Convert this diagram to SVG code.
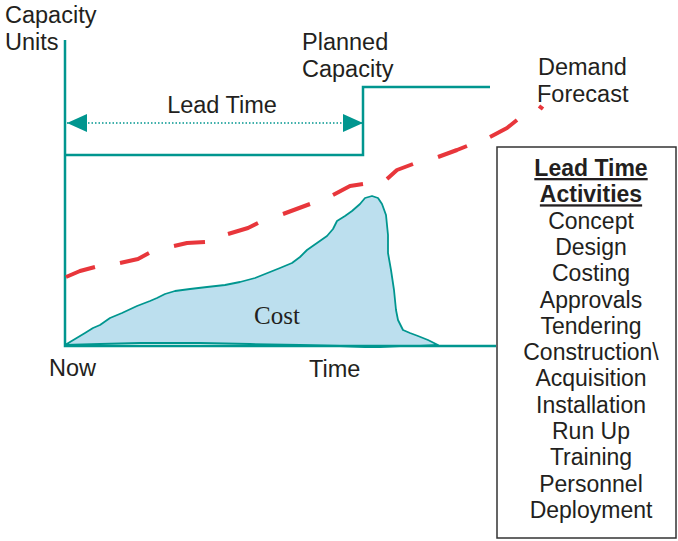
<svg xmlns="http://www.w3.org/2000/svg" width="678" height="541" viewBox="0 0 678 541">
<style>
.t{font-family:"Liberation Sans",Arial,sans-serif;font-size:23.5px;fill:#231f20}
.l{font-family:"Liberation Sans",Arial,sans-serif;font-size:23px;fill:#231f20;text-anchor:middle}
.b{font-weight:bold;text-decoration:underline}
.teal{fill:none;stroke:#00968f;stroke-width:2.5}
</style>
<defs>
<marker id="ah" viewBox="0 0 20 18" refX="20" refY="9" markerWidth="20" markerHeight="18" markerUnits="userSpaceOnUse" orient="auto-start-reverse">
<path d="M0,0 L20,9 L0,18 Z" fill="#00968f"/>
</marker>
</defs>
<rect width="678" height="541" fill="#fff"/>
<g id="cost">
<path d="M65,345 L75,339 L85,333 L93,328 L100,325 L110,318 L122,313 L137,306 L150,301 L157,298 L165,294 L175,291 L190,289 L207,287 L225,285 L240,282 L255,278 L270,272 L280,268 L292,263 L300,257 L307,250 L317,243 L327,236 L333,229 L337,221 L345,216 L352,211 L360,204 L365,198 L372,196 L378,198 L382,204 L386,215 L388,235 L388,253 L391,270 L394,290 L396,310 L398,320 L403,330 L410,333 L418,336 L428,340 L438,345 L420,346 L400,346 L380,347 L365,347 L340,346 L300,345 L250,344 L200,343 L140,343 L100,344 Z" fill="#bcdfee" stroke="#00968f" stroke-width="1.8" stroke-linejoin="round"/>
<text x="277" y="324" font-family="'Liberation Serif','Times New Roman',serif" font-size="25" fill="#231f20" text-anchor="middle">Cost</text>
</g>
<g id="axes">
<path class="teal" d="M65,40 L65,346 L496,346"/>
<text class="t" x="5" y="23">Capacity</text>
<text class="t" x="5" y="50">Units</text>
<text class="t" x="49" y="376">Now</text>
<text class="t" x="309" y="377">Time</text>
</g>
<g id="planned-capacity">
<path class="teal" d="M65,155 L363,155 L363,87 L490,87"/>
<text class="t" x="302" y="50">Planned</text>
<text class="t" x="302" y="77">Capacity</text>
</g>
<g id="demand-forecast">
<path d="M66,277 L80,271 L95,267 M120,263 L138,259 L149,253 M174,246 L187,243 L205,242 M228,234 L248,228 L258,223 M283,214 L310,204 M333,195 L350,186 L363,184 M387,179 L397,170 L413,164 M438,157 L457,150 L467,146 M490,137 L507,128 L517,120 M539,106 L543,109" fill="none" stroke="#e8363b" stroke-width="4" stroke-linejoin="round"/>
<text class="t" x="538" y="75">Demand</text>
<text class="t" x="537" y="102">Forecast</text>
</g>
<g id="connectors">
<path d="M67,123 L363,123" fill="none" stroke="#00968f" stroke-width="1.5" stroke-dasharray="1.5 2" marker-start="url(#ah)" marker-end="url(#ah)"/>
<text class="t" x="222" y="113" text-anchor="middle">Lead Time</text>
</g>
<g id="activities">
<rect x="497" y="147" width="179" height="391" fill="#fff" stroke="#333" stroke-width="1.5"/>
<text class="l b" x="591" y="176">Lead Time</text>
<text class="l b" x="591" y="202.3">Activities</text>
<text class="l" x="591" y="228.6">Concept</text>
<text class="l" x="591" y="254.9">Design</text>
<text class="l" x="591" y="281.2">Costing</text>
<text class="l" x="591" y="307.5">Approvals</text>
<text class="l" x="591" y="333.8">Tendering</text>
<text class="l" x="591" y="360.1">Construction\</text>
<text class="l" x="591" y="386.4">Acquisition</text>
<text class="l" x="591" y="412.7">Installation</text>
<text class="l" x="591" y="439">Run Up</text>
<text class="l" x="591" y="465.3">Training</text>
<text class="l" x="591" y="491.6">Personnel</text>
<text class="l" x="591" y="517.9">Deployment</text>
</g>
</svg>
